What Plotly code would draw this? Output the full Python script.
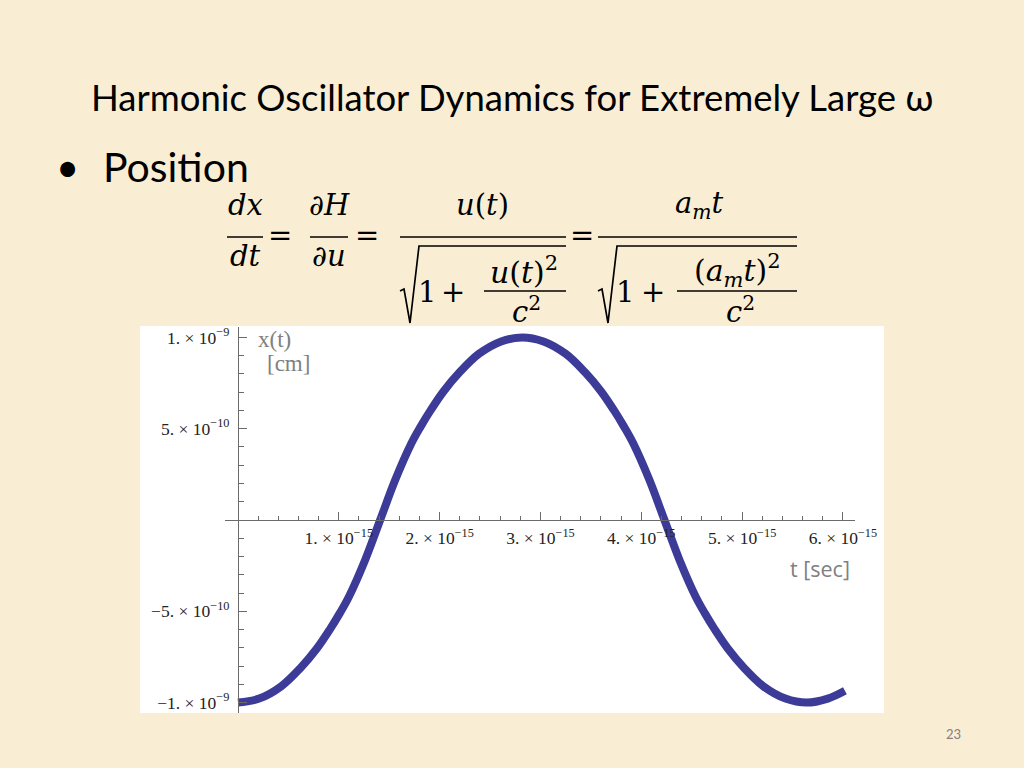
import plotly.graph_objects as go

# ---------------- data ----------------
T_UNIT = 1e-15   # seconds
X_UNIT = 1e-9    # cm

t_values = [0.00, 0.21, 0.43, 0.62, 0.78, 0.91, 1.01, 1.10, 1.26, 1.41,
            1.56, 1.72, 1.81, 1.91, 2.04, 2.20, 2.39, 2.61, 2.82,
            3.03, 3.25, 3.44, 3.60, 3.73, 3.83, 3.92, 4.08, 4.23,
            4.38, 4.54, 4.63, 4.73, 4.86, 5.02, 5.21, 5.43, 5.64, 5.85, 6.02]
x_values = [-1.00, -0.978, -0.91, -0.81, -0.705, -0.60, -0.51, -0.42, -0.22, 0.00,
            0.22, 0.42, 0.51, 0.60, 0.705, 0.81, 0.91, 0.978, 1.00,
            0.978, 0.91, 0.81, 0.705, 0.60, 0.51, 0.42, 0.22, 0.00,
            -0.22, -0.42, -0.51, -0.60, -0.705, -0.81, -0.91, -0.978, -1.00, -0.978, -0.935]

x_tick_vals = [1, 2, 3, 4, 5, 6]
x_tick_text = ["1. × 10<sup>−15</sup>", "2. × 10<sup>−15</sup>", "3. × 10<sup>−15</sup>",
               "4. × 10<sup>−15</sup>", "5. × 10<sup>−15</sup>", "6. × 10<sup>−15</sup>"]
y_tick_vals = [-1.0, -0.5, 0.5, 1.0]
y_tick_text = ["−1. × 10<sup>−9</sup>", "−5. × 10<sup>−10</sup>",
               "5. × 10<sup>−10</sup>", "1. × 10<sup>−9</sup>"]

title_text = "Harmonic Oscillator Dynamics for Extremely Large ω"
bullet_text = "Position"
page_number = "23"

# ---------------- layout helpers ----------------
W, H = 1024, 768
BG = "#F9EED4"
AX = "#6b6b6b"


def px(v):
    return v / W


def py(v):
    return 1 - v / H


t = [v * T_UNIT for v in t_values]
x = [v * X_UNIT for v in x_values]

x_range = [-0.129 * T_UNIT, 6.12 * T_UNIT]
y_range = [-1.057 * X_UNIT, 1.057 * X_UNIT]
x_dom = [px(225), px(855)]
y_dom = [py(713), py(327)]
x_zero = x_dom[0] + (0 - x_range[0]) / (x_range[1] - x_range[0]) * (x_dom[1] - x_dom[0])
y_zero = y_dom[0] + (0 - y_range[0]) / (y_range[1] - y_range[0]) * (y_dom[1] - y_dom[0])

fig = go.Figure()
fig.add_trace(go.Scatter(
    x=t, y=x, mode="lines",
    line=dict(color="#3C3C98", width=8, shape="spline", smoothing=1.0),
    hoverinfo="skip", showlegend=False,
))

tick_font = dict(family="Liberation Serif", size=17.5, color="#222222")

fig.update_layout(
    width=W, height=H, autosize=False,
    margin=dict(l=0, r=0, t=0, b=0, pad=0, autoexpand=False),
    paper_bgcolor=BG, plot_bgcolor="white",
    showlegend=False,
    xaxis=dict(
        domain=x_dom, range=x_range, anchor="free", position=y_zero, automargin=False,
        tickmode="array", tickvals=[v * T_UNIT for v in x_tick_vals], ticktext=x_tick_text,
        ticks="inside", ticklen=8, tickwidth=1, tickcolor=AX, ticklabelstandoff=2,
        showline=True, linecolor=AX, linewidth=1.2,
        showgrid=False, zeroline=False, tickfont=tick_font,
        minor=dict(tickmode="linear", tick0=0, dtick=0.2 * T_UNIT, ticks="inside",
                   ticklen=4, tickwidth=1, tickcolor=AX, showgrid=False),
    ),
    yaxis=dict(
        domain=y_dom, range=y_range, anchor="free", position=x_zero, automargin=False,
        tickmode="array", tickvals=[v * X_UNIT for v in y_tick_vals], ticktext=y_tick_text,
        ticks="inside", ticklen=8, tickwidth=1, tickcolor=AX, ticklabelstandoff=5,
        showline=True, linecolor=AX, linewidth=1.2,
        showgrid=False, zeroline=False, tickfont=tick_font,
        minor=dict(tickmode="linear", tick0=0, dtick=0.1 * X_UNIT, ticks="inside",
                   ticklen=5, tickwidth=1, tickcolor=AX, showgrid=False),
    ),
)

shapes = []
# white panel behind the plot
shapes.append(dict(type="rect", xref="paper", yref="paper",
                   x0=px(140), x1=px(884), y0=py(713), y1=py(326),
                   fillcolor="white", line=dict(width=0), layer="below"))

annotations = []


def ann(text, x0, y0, size, family="Lato", color="black", xanchor="center", yanchor="middle"):
    annotations.append(dict(text=text, x=px(x0), y=py(y0), xref="paper", yref="paper",
                            showarrow=False, xanchor=xanchor, yanchor=yanchor,
                            font=dict(family=family, size=size, color=color)))


# title / bullet / page number
ann(title_text, 512, 97, 36.5)
ann("•", 67, 167, 40)
ann(bullet_text, 101, 166, 41, xanchor="left")
ann(page_number, 953, 734, 13, color="#7f7f7f")

# axis labels
ann("x(t)", 256, 340, 23, family="Liberation Serif", color="#808080", xanchor="left")
ann("[cm]", 265, 364, 23, family="Liberation Serif", color="#808080", xanchor="left")
ann("t [sec]", 852, 568, 21.5, family="Open Sans", color="#808080", xanchor="right")

# ---------------- equation ----------------
EQF = "DejaVu Serif"
EQS = 29


def bar(x0, x1, y):
    shapes.append(dict(type="line", xref="paper", yref="paper",
                       x0=px(x0), x1=px(x1), y0=py(y), y1=py(y),
                       line=dict(color="black", width=1.7)))


def radical(x0, x1, top, bottom, tick_y):
    pts = [(x0, tick_y + 2), (x0 + 4, tick_y), (x0 + 10, bottom), (x0 + 19, top), (x1, top)]
    path = "M " + " L ".join(f"{px(a):.5f},{py(b):.5f}" for a, b in pts)
    shapes.append(dict(type="path", xref="paper", yref="paper", path=path,
                       line=dict(color="black", width=1.7)))


NUM_Y, BAR_Y, DEN_Y = 205, 237, 256

# dx/dt
ann("<i>dx</i>", 245, NUM_Y, EQS, EQF)
bar(227, 263, BAR_Y)
ann("<i>dt</i>", 245, DEN_Y, EQS, EQF)
ann("=", 280, BAR_Y - 2, EQS, EQF)
# dH/du
ann("<i>∂H</i>", 329, NUM_Y, EQS, EQF)
bar(310, 348, BAR_Y)
ann("<i>∂u</i>", 329, DEN_Y, EQS, EQF)
ann("=", 367, BAR_Y - 2, EQS, EQF)
# u(t) / sqrt(1 + u(t)^2/c^2)
ann("<i>u</i>(<i>t</i>)", 482, NUM_Y, EQS, EQF)
bar(400, 566, BAR_Y)
radical(400, 566, 246, 323, 289)
ann("1", 427, 292, EQS, EQF)
ann("+", 453, 292, EQS, EQF)
ann("<i>u</i>(<i>t</i>)<sup>2</sup>", 524, 270, 30, EQF)
bar(484, 566, 291)
ann("<i>c</i><sup>2</sup>", 526, 310, EQS, EQF)
ann("=", 582, BAR_Y - 2, EQS, EQF)
# a_m t / sqrt(1 + (a_m t)^2/c^2)
ann("<i>a</i><sub><i>m</i></sub><i>t</i>", 699, NUM_Y, EQS, EQF)
bar(598, 797, BAR_Y)
radical(598, 797, 246, 323, 289)
ann("1", 625, 292, EQS, EQF)
ann("+", 653, 292, EQS, EQF)
ann("(<i>a</i><sub><i>m</i></sub><i>t</i>)<sup>2</sup>", 737, 270, 30, EQF)
bar(677, 797, 291)
ann("<i>c</i><sup>2</sup>", 740, 310, EQS, EQF)

fig.update_layout(shapes=shapes, annotations=annotations)
fig.write_html(
    "out.html",
    config={"responsive": False, "displayModeBar": False},
    default_width="1024px", default_height="768px",
    post_script="document.body.style.margin='0';document.body.style.overflow='hidden';",
)
